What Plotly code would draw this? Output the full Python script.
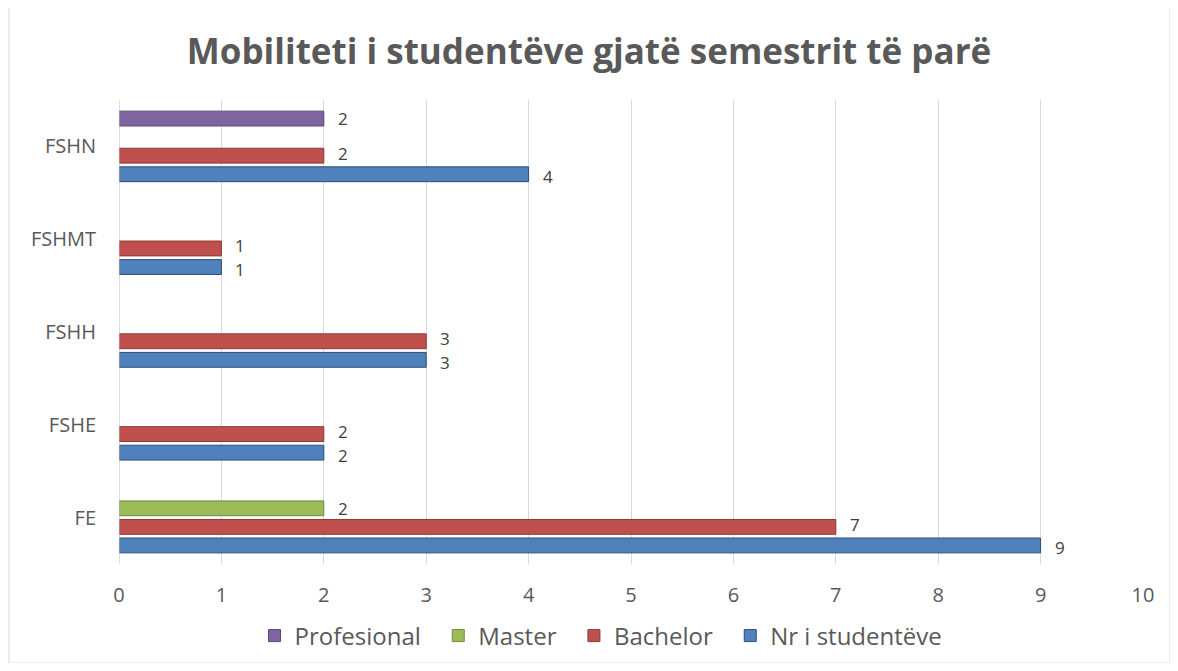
import plotly.graph_objects as go

categories = ["FE", "FSHE", "FSHH", "FSHMT", "FSHN"]
nr_studenteve = [9, 2, 3, 1, 4]
bachelor = [7, 2, 3, 1, 2]
master = [2, None, None, None, None]
profesional = [None, None, None, None, 2]
x_ticks = list(range(0, 11))

NB = "\u00a0\u00a0"
series = [
    ("Nr i studentëve", nr_studenteve, "#4F81BD", "#2C4D75"),
    ("Bachelor" + NB, bachelor, "#C0504D", "#8C3836"),
    ("Master" + NB, master, "#9BBB59", "#71893F"),
    ("Profesional" + NB, profesional, "#8064A2", "#5C4776"),
]

FONT = "Open Sans"

# page body adds an 8px offset; figure coords = reference coords - 8
OFF = 8
W, H = 1162, 655
plot_l, plot_r, plot_t, plot_b = 119 - OFF, 1143 - OFF, 100 - OFF, 564 - OFF
l, r, t, b = plot_l, W - plot_r, plot_t, H - plot_b
pw, ph = plot_r - plot_l, plot_b - plot_t
BARGAP = 0.2
slot = ph / len(categories) * (1 - BARGAP) / len(series)
nudge = [-2.5, 2.5, 0, 0]

fig = go.Figure()
annotations = []
for i, (name, vals, col, line) in enumerate(series):
    fig.add_trace(go.Bar(
        y=categories, x=vals, name=name, orientation="h",
        marker=dict(color=col, line=dict(color=line, width=1)),
        hoverinfo="x+y+name",
    ))
    for cat, v in zip(categories, vals):
        if v is None:
            continue
        annotations.append(dict(
            x=v, y=cat, xref="x", yref="y", text=str(v), showarrow=False,
            xanchor="left", yanchor="middle", xshift=12,
            yshift=(i - (len(series) - 1) / 2) * slot + nudge[i],
            font=dict(size=17, color="#404040", family=FONT),
        ))

def px(x):
    return (x - OFF - plot_l) / pw

def py(y):
    return 1 - (y - OFF - plot_t) / ph

fig.update_layout(
    width=W, height=H,
    margin=dict(l=l, r=r, t=t, b=b, autoexpand=False),
    paper_bgcolor="white", plot_bgcolor="white",
    barmode="group", bargap=BARGAP, bargroupgap=0.2,
    title=dict(text="<b>Mobiliteti i studentëve gjatë semestrit të parë</b>",
               x=0.5, xanchor="center", y=1 - (52 - OFF) / H, yanchor="middle",
               font=dict(size=35, color="#595959", family=FONT)),
    xaxis=dict(range=[0, 10], tickvals=x_ticks, showgrid=True,
               gridcolor="#D9D9D9", gridwidth=1, zeroline=False,
               tickfont=dict(size=20, color="#595959", family=FONT),
               ticks="", showline=False, ticklabelstandoff=17),
    yaxis=dict(tickfont=dict(size=20, color="#595959", family=FONT),
               showgrid=False, zeroline=False, ticks="", ticklen=0,
               showline=False, ticklabelstandoff=22),
    legend=dict(orientation="h", traceorder="reversed", x=px(601), xanchor="center",
                y=py(636), yanchor="middle",
                font=dict(size=24, color="#595959", family=FONT),
                itemwidth=30),
    showlegend=True,
    annotations=annotations,
    shapes=[dict(type="rect", xref="paper", yref="paper",
                 x0=px(9), x1=px(1170), y0=py(663), y1=py(5),
                 line=dict(color="#D9D9D9", width=1), fillcolor="rgba(0,0,0,0)", layer="below"),
            dict(type="line", xref="x", yref="paper", x0=0, x1=0, y0=0, y1=1,
                 line=dict(color="#BFBFBF", width=1))],
)

fig.write_html("out.html")
